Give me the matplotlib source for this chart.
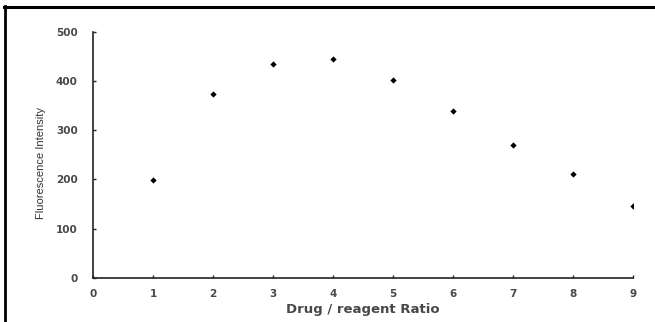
import matplotlib

matplotlib.use("Agg")

import matplotlib.pyplot as plt
from matplotlib.lines import Line2D

ratio = [1, 2, 3, 4, 5, 6, 7, 8, 9]
intensity = [198, 374, 435, 445, 402, 339, 270, 212, 146]
x_ticks = [0, 1, 2, 3, 4, 5, 6, 7, 8, 9]
y_ticks = [0, 100, 200, 300, 400, 500]

plt.rcParams["font.family"] = ["DejaVu Sans"]

fig = plt.figure(figsize=(6.55, 3.22), dpi=100)
ax = fig.add_axes([0.142, 0.137, 0.824, 0.764])

ax.plot(ratio, intensity, linestyle="none", marker="D", markersize=3.2,
        color="black", markeredgewidth=0)

ax.set_xlim(0, 9)
ax.set_ylim(0, 500)
ax.set_xticks(x_ticks)
ax.set_yticks(y_ticks)
ax.tick_params(direction="in", length=2.5, width=1.0, colors="#222222",
               labelsize=7.5, labelcolor="#484848")
ax.tick_params(axis="x", pad=8)
ax.tick_params(axis="y", pad=11)
for lab in ax.get_xticklabels() + ax.get_yticklabels():
    lab.set_fontweight("bold")

for side in ("top", "right"):
    ax.spines[side].set_visible(False)
for side in ("left", "bottom"):
    ax.spines[side].set_linewidth(1.2)
    ax.spines[side].set_color("#222222")

ax.set_xlabel("Drug / reagent Ratio", fontsize=9.5, fontweight="bold",
              color="#484848", labelpad=3)
ax.set_ylabel("Fluorescence Intensity", fontsize=8,
              family=["Liberation Sans Narrow", "Liberation Sans"],
              color="#333333")
ax.yaxis.set_label_coords(-0.088, 0.467)

# page frame around the figure (top and left edges)
fig.add_artist(Line2D([0.006, 1.0], [0.978, 0.978], transform=fig.transFigure,
                      color="black", linewidth=2.2))
fig.add_artist(Line2D([0.008, 0.008], [0.0, 0.98], transform=fig.transFigure,
                      color="black", linewidth=2.0))

fig.savefig("out.png", dpi=100)
